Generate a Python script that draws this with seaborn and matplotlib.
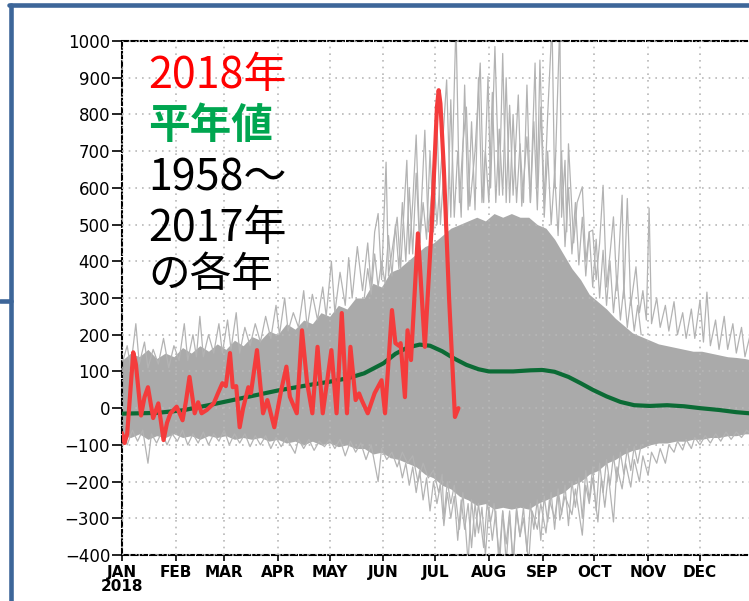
import numpy as np
import pandas as pd
import matplotlib
matplotlib.use("Agg")
import matplotlib.pyplot as plt
from matplotlib.lines import Line2D
import seaborn as sns

# ---------------- data ----------------
month_days = [0, 31, 59, 90, 120, 151, 181, 212, 243, 273, 304, 334]
month_labels = ["JAN\n2018", "FEB", "MAR", "APR", "MAY", "JUN", "JUL",
                "AUG", "SEP", "OCT", "NOV", "DEC"]
y_ticks = [-400, -300, -200, -100, 0, 100, 200, 300, 400, 500,
           600, 700, 800, 900, 1000]

# 2018 (red)
red_day = [0, 1.5, 3, 6.5, 8, 11, 13, 15, 18, 21, 24, 26, 28, 31.6, 35, 37, 39,
           42, 44, 46, 49, 53, 55.5, 58, 60, 62.4, 64, 66, 68, 70, 73, 74.5, 78,
           81.5, 84, 88, 92, 95, 97, 101, 104, 107, 110, 113, 116, 121, 124,
           127, 130, 132, 135, 137, 138.5, 142, 146, 150, 152, 156, 158, 160,
           161, 163.5, 165, 167, 171, 175, 179, 182, 183, 184, 186, 189,
           192.4, 194.4]
red_val = [-68, -95, -70, 152, 120, -20, 30, 57, -27, 13, -87, -40, -14, 4, -33,
           20, 85, -14, 16, -14, -5, 13, 41, 68, 60, 150, 57, 60, -52, 0, 57, 41,
           158, -14, 22, -52, 49, 113, 31, -14, 212, 68, -14, 167, -14, 158,
           -14, 259, -14, 167, 22, 40, 22, -14, 41, 76, -14, 267, 177, 170, 177,
           30, 212, 131, 476, 167, 500, 820, 866, 830, 650, 300, -24, 0]

# climatology (green)
clim_day = [0, 20, 35, 50, 60, 75, 90, 108, 120, 131, 140, 151, 158, 165, 172,
            178, 185, 192, 199, 206, 212, 226, 236, 243, 250, 258, 265, 272,
            280, 288, 296, 305, 315, 325, 334, 345, 355, 365]
clim_val = [-15, -13, -6, 8, 18, 33, 48, 63, 72, 82, 95, 122, 148, 165, 173,
            170, 155, 135, 118, 106, 100, 100, 103, 104, 99, 85, 68, 50, 32, 17,
            8, 6, 8, 5, 0, -5, -11, -15]

# 1958-2017: dense part of the bundle of years (every 5 days)
dense_day = [0, 5, 10, 15, 20, 25, 30, 35, 40, 45, 50, 55, 60, 65, 70, 75, 80,
             85, 90, 95, 100, 105, 110, 115, 120, 125, 130, 135, 140, 145, 150,
             155, 160, 165, 170, 175, 180, 185, 190, 195, 200, 205, 210, 215,
             220, 225, 230, 235, 240, 245, 250, 255, 260, 265, 270, 275, 280,
             285, 290, 295, 300, 305, 310, 315, 320, 325, 330, 335, 340, 345,
             350, 355, 360, 365]
dense_hi = [130, 150, 140, 160, 135, 150, 140, 165, 150, 170, 155, 175, 160,
            185, 170, 195, 185, 210, 200, 230, 215, 240, 230, 260, 250, 280,
            270, 300, 300, 340, 330, 370, 380, 400, 420, 440, 450, 470, 490,
            500, 510, 520, 510, 530, 520, 530, 520, 520, 500, 490, 460, 420,
            380, 350, 310, 290, 270, 245, 225, 205, 195, 185, 175, 170, 165,
            160, 155, 155, 150, 145, 140, 138, 135, 130]
dense_lo = [-75, -80, -70, -85, -75, -80, -70, -80, -75, -85, -75, -80, -75,
            -85, -80, -85, -80, -90, -85, -95, -90, -100, -90, -100, -95, -105,
            -100, -110, -110, -125, -120, -135, -140, -150, -160, -180, -190,
            -210, -220, -240, -250, -265, -260, -275, -270, -275, -270, -275,
            -260, -250, -240, -230, -210, -200, -180, -170, -150, -140, -125,
            -115, -110, -100, -95, -95, -90, -90, -85, -85, -80, -80, -75, -75,
            -70, -70]

# upper spikes of individual years
up_day = [0, 3, 5, 8, 10, 13, 15, 18, 21, 24, 27, 30, 33, 36, 38, 41, 43, 45, 47,
          50, 53, 56, 58, 61, 63, 66, 68, 71, 74, 77, 80, 83, 86, 89, 91, 94, 96,
          99, 102, 105, 107, 110, 113, 116, 118, 121, 123, 126, 129, 131, 133,
          136, 139, 142, 144, 146, 148, 150, 152.6, 154, 157, 159, 161, 164.6,
          166, 168, 170, 172, 175, 177, 180, 182, 185, 187.6, 190, 193, 195, 197,
          199, 201, 204, 207, 209, 211.5, 213, 215.5, 218, 220, 222, 224, 226,
          229, 231, 234, 236, 238.7, 240, 241.5, 244, 246, 248.5, 250, 253, 254,
          256, 257, 258, 261, 263, 266, 268, 270, 272, 274, 276, 278, 280, 282,
          284, 286, 289, 290, 292, 294, 297, 299, 301, 303, 304.6, 306, 309, 311,
          314, 316, 319, 321, 324, 326, 329, 331, 334, 336, 338, 340, 343, 345,
          348, 350, 353, 355, 358, 360, 363, 365]
up_val = [120, 170, 110, 230, 120, 180, 110, 160, 120, 190, 110, 170, 130, 230,
          130, 200, 140, 250, 140, 200, 150, 230, 150, 240, 160, 260, 150, 220,
          170, 230, 180, 250, 190, 280, 200, 300, 210, 260, 220, 320, 220, 310,
          240, 330, 250, 400, 260, 370, 280, 410, 300, 440, 320, 450, 330, 480,
          530, 350, 670, 360, 460, 520, 380, 675, 420, 560, 744, 450, 757, 480,
          640, 500, 700, 894, 520, 1050, 560, 720, 820, 550, 700, 940, 560, 903,
          600, 985, 580, 966, 560, 825, 580, 853, 550, 739, 560, 940, 600, 948,
          560, 800, 1050, 600, 1050, 520, 675, 480, 720, 450, 560, 603, 400, 480,
          485, 350, 450, 607, 330, 420, 521, 320, 580, 300, 571, 280, 385, 260,
          320, 240, 545, 230, 300, 220, 280, 210, 290, 200, 260, 190, 270, 190,
          294, 180, 316, 170, 240, 160, 250, 160, 230, 150, 220, 140, 200, 130]

# more upper spikes in summer
up2_day = [140, 142, 144, 146, 148, 150, 152, 154, 156, 158, 160, 162, 164, 166,
           168, 170, 172, 174, 176, 178, 180, 182, 184, 186, 188, 190, 192, 194,
           196, 198, 200, 202, 204, 206, 208, 210, 212, 214, 216, 218, 220, 222,
           224, 226, 228, 230, 232, 234, 236, 238, 240, 242, 244, 246, 248, 250,
           252, 254, 256, 258, 260, 262, 264, 266, 268, 270, 272, 274, 276, 278,
           280, 282, 284, 286, 288, 290, 292, 294, 296, 298, 300]
up2_val = [300, 380, 310, 420, 330, 400, 340, 470, 360, 500,
           380, 560, 400, 600, 420, 640, 450, 560, 460, 700,
           480, 780, 500, 650, 500, 840, 520, 700, 520, 880,
           540, 780, 540, 900, 560, 700, 560, 860, 560, 760,
           580, 900, 560, 800, 560, 720, 560, 880, 560, 780,
           540, 820, 520, 700, 500, 640, 470, 700, 440, 600,
           420, 560, 390, 520, 360, 480, 330, 460, 300, 430,
           280, 400, 260, 360, 240, 330, 220, 300, 210, 280,
           200]

# lower spikes of individual years
lo_day = [0, 3, 6, 9, 12, 15, 17, 20, 23, 26, 29, 32, 35, 38, 41, 44, 47, 50, 53,
          56, 59, 62, 65, 68, 71, 74, 77, 80, 83, 86, 89, 92, 95, 100, 102, 105,
          108, 111, 114, 117, 120, 123, 126, 129, 132, 135, 138, 141, 144, 148,
          150, 153, 156, 159, 162, 165, 168, 171, 174, 177, 180, 183, 185, 186,
          188, 190, 192, 195, 197, 200, 202, 204, 206, 209, 211, 213, 215, 218,
          220, 222, 224, 226, 228, 230, 232, 235, 237, 240, 242, 245, 247, 250,
          252, 253, 256, 260, 262, 266, 268, 270, 272, 275, 277, 279, 281, 284,
          286, 289, 291, 294, 296, 299, 301, 304, 306, 309, 311, 314, 316, 319,
          321, 324, 326, 329, 331, 334, 337, 340, 343, 346, 349, 352, 355, 358,
          361, 365]
lo_val = [-60, -100, -60, -90, -60, -150, -70, -95, -65, -100, -70, -90, -60,
          -100, -70, -95, -65, -100, -70, -90, -60, -100, -70, -95, -70, -105,
          -75, -100, -75, -110, -80, -105, -80, -123, -85, -110, -85, -115, -90,
          -105, -85, -110, -85, -130, -90, -120, -95, -140, -100, -200, -110,
          -140, -120, -160, -120, -150, -130, -200, -150, -190, -169, -230, -180,
          -300, -200, -260, -210, -330, -230, -420, -250, -350, -260, -380, -260,
          -310, -260, -400, -280, -420, -290, -430, -280, -350, -300, -420, -280,
          -330, -260, -340, -250, -300, -230, -305, -240, -290, -220, -346, -210,
          -260, -190, -310, -190, -270, -180, -310, -160, -220, -150, -215, -140,
          -200, -130, -183, -120, -150, -110, -150, -100, -120, -90, -114, -85,
          -110, -80, -100, -75, -95, -70, -90, -65, -85, -65, -80, -60, -78]

# more lower spikes in summer
lo2_day = [160, 162, 164, 166, 168, 170, 172, 174, 176, 178, 180, 182, 184, 186,
           188, 190, 192, 194, 196, 198, 200, 202, 204, 206, 208, 210, 212, 214,
           216, 218, 220, 222, 224, 226, 228, 230, 232, 234, 236, 238, 240, 242,
           244, 246, 248, 250, 252, 254, 256, 258, 260, 262, 264, 266, 268, 270,
           272, 274, 276, 278, 280, 282, 284, 286, 288, 290, 292, 294, 296, 298,
           300]
lo2_val = [-140, -190, -150, -210, -160, -230, -170, -250, -190, -280,
           -200, -260, -210, -320, -230, -300, -240, -360, -250, -330,
           -260, -380, -260, -340, -270, -400, -270, -360, -280, -440,
           -280, -370, -280, -420, -270, -350, -270, -390, -260, -330,
           -250, -360, -240, -310, -230, -330, -220, -290, -210, -320,
           -200, -270, -190, -300, -170, -250, -160, -280, -150, -230,
           -140, -210, -130, -200, -120, -180, -110, -170, -105, -150,
           -100]

# ---------------- figure ----------------
sns.set_style("white")
plt.rcParams["font.family"] = ["DejaVu Sans"]
jp = ["Noto Sans CJK JP", "DejaVu Sans"]

W, H = 749, 601
fig = plt.figure(figsize=(W / 100, H / 100), dpi=100)
x_per_day = 1.7305
ax_left, ax_right = 122, 122 + 365 * x_per_day
ax_top, ax_bot = 41, 555
ax = fig.add_axes([ax_left / W, 1 - ax_bot / H, (ax_right - ax_left) / W,
                   (ax_bot - ax_top) / H])

gray_fill = "#aaaaaa"
gray_line = "#b3b3b3"

ax.fill_between(dense_day, dense_lo, dense_hi, color=gray_fill, lw=0, zorder=1)

for d, v in [(up_day, up_val), (up2_day, up2_val), (lo_day, lo_val),
             (lo2_day, lo2_val)]:
    df = pd.DataFrame({"day": d, "val": v})
    sns.lineplot(data=df, x="day", y="val", ax=ax, color=gray_line, lw=0.9,
                 estimator=None, zorder=2)

clim_df = pd.DataFrame({"day": clim_day, "val": clim_val})
sns.lineplot(data=clim_df, x="day", y="val", ax=ax, color="#0b6b35", lw=3,
             estimator=None, zorder=4)

red_df = pd.DataFrame({"day": red_day, "val": red_val})
sns.lineplot(data=red_df, x="day", y="val", ax=ax, color="#f43c3c", lw=3,
             estimator=None, zorder=5)

ax.set_xlim(0, 365)
ax.set_ylim(-400, 1000)
ax.set_xticks(month_days)
ax.set_xticklabels(month_labels, fontsize=11, fontweight="bold",
                   linespacing=0.95)
ax.set_yticks(y_ticks)
ax.set_yticklabels([f"{v}".replace("-", "\u2212") for v in y_ticks],
                   fontsize=12)
ax.set_xlabel("")
ax.set_ylabel("")
ax.tick_params(axis="y", direction="out", length=7, width=1.2, pad=1.5,
               left=True, colors="black")
ax.tick_params(axis="x", direction="out", length=4, width=1.2, pad=3,
               bottom=True, colors="black")
ax.grid(True, color="#b8b8b8", linestyle=(0, (1, 3)), lw=1.2)
ax.set_axisbelow(False)
for gl in ax.get_xgridlines() + ax.get_ygridlines():
    gl.set_zorder(3)
for side in ["left", "bottom", "top"]:
    ax.spines[side].set_visible(True)
    ax.spines[side].set_color("black")
    ax.spines[side].set_linewidth(1.5)
    ax.spines[side].set_linestyle((0, (3, 1.5)))
ax.spines["right"].set_visible(False)

# annotation texts
tx = 148 / W
fig.text(tx, 1 - 88 / H, "2018年", color="#ff0000", fontsize=31,
         family=jp, va="baseline")
fig.text(tx, 1 - 138 / H, "平年値", color="#00a650", fontsize=30,
         fontweight="bold", family=jp, va="baseline")
fig.text(tx, 1 - 191 / H, "1958～", color="black", fontsize=31,
         family=jp, va="baseline")
fig.text(tx, 1 - 241 / H, "2017年", color="black", fontsize=31,
         family=jp, va="baseline")
fig.text(tx, 1 - 287 / H, "の各年", color="black", fontsize=30,
         family=jp, va="baseline")

# blue frame of the slide
blue = "#3d6699"
bx, by = 10.8 / W, 1 - 5 / H
fig.add_artist(Line2D([bx, bx], [-0.02, by], color=blue, lw=3.3,
                      transform=fig.transFigure))
fig.add_artist(Line2D([bx - 1.6 / W, 1.02], [by, by], color=blue, lw=3.3,
                      transform=fig.transFigure))
fig.add_artist(Line2D([0, bx], [1 - 301 / H, 1 - 301 / H], color=blue, lw=3.3,
                      transform=fig.transFigure))

fig.savefig("out.png", dpi=100)
